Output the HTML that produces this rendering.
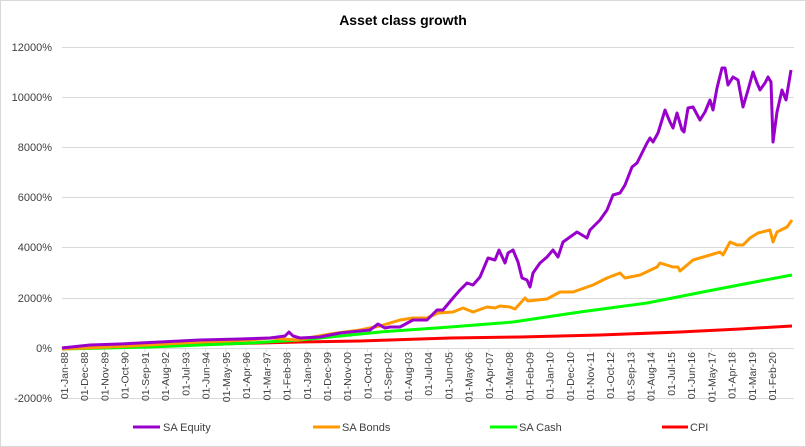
<!DOCTYPE html>
<html><head><meta charset="utf-8"><style>
html,body{margin:0;padding:0;background:#fff;}
svg{display:block;font-family:"Liberation Sans",sans-serif;}
</style></head><body>
<svg width="806" height="447" viewBox="0 0 806 447">
<rect x="0.5" y="0.5" width="805" height="446" fill="#fff" stroke="#d9d9d9"/>
<text x="403" y="25" text-anchor="middle" font-size="14" font-weight="bold" fill="#000">Asset class growth</text>
<g stroke="#d9d9d9" stroke-width="1">
<line x1="62" x2="794" y1="47.5" y2="47.5"/>
<line x1="62" x2="794" y1="97.5" y2="97.5"/>
<line x1="62" x2="794" y1="147.5" y2="147.5"/>
<line x1="62" x2="794" y1="197.5" y2="197.5"/>
<line x1="62" x2="794" y1="247.5" y2="247.5"/>
<line x1="62" x2="794" y1="298.5" y2="298.5"/>
<line x1="62" x2="794" y1="348.5" y2="348.5"/>
<line x1="62" x2="794" y1="398.5" y2="398.5"/>
</g>
<g font-size="11" fill="#404040" text-anchor="end">
<text x="52" y="51">12000%</text>
<text x="52" y="101">10000%</text>
<text x="52" y="151">8000%</text>
<text x="52" y="201">6000%</text>
<text x="52" y="251">4000%</text>
<text x="52" y="302">2000%</text>
<text x="52" y="352">0%</text>
<text x="52" y="402">-2000%</text>
</g>
<g id="ticks" stroke="#d9d9d9"></g>
<g id="xl" font-size="10.5" fill="#404040" text-anchor="end"></g>
<g fill="none" stroke-width="3" stroke-linejoin="round">
<polyline stroke="#ff0000" points="62,348 75,347 125,346 165,345 215,344 260,343 300,342 360,341 390,340 450,338 520,337 600,335 680,332 740,329 792,326"/>
<polyline stroke="#00ff00" points="62,349 150,347 200,345 250,343 300,340 330,337 360,334 380,332 450,327 513,322 580,312 647,303 713,290 760,281 792,275"/>
<polyline stroke="#ff9900" points="62,349 130,346 200,342 250,340 270,338 297,340 330,334 360,330 380,326 400,320 413,318 427,318 438,313 453,312 463,308 473,312 487,307 495,308 500,306 510,307 515,309 525,298 528,301 547,299 560,292 573,292 593,285 607,278 620,273 625,278 640,275 657,267 660,263 673,267 678,267 680,271 693,260 710,255 720,252 723,255 730,242 737,245 743,245 750,238 758,233 770,230 773,242 777,232 787,227 792,220"/>
<polyline stroke="#9900cc" points="62,348 90,345 120,344 160,342 200,340 240,339 270,338 285,336 289,332 293,336 300,338 320,337 340,333 370,330 378,324 385,328 390,327 400,327 413,320 427,320 437,310 443,310 453,298 460,290 467,283 473,285 480,277 488,258 495,260 499,250 505,263 508,253 513,250 518,262 522,278 527,280 530,287 533,273 540,263 547,257 553,250 558,257 563,242 570,237 577,232 587,238 590,230 600,220 607,210 613,195 620,193 625,185 632,167 637,163 642,153 647,143 650,138 653,142 658,133 662,120 665,110 670,122 673,128 677,113 682,130 684,132 688,108 693,107 700,120 705,112 710,100 713,110 717,88 722,68 725,68 728,85 733,77 738,80 743,107 748,90 753,72 757,83 760,90 765,83 768,77 771,82 773,142 777,112 782,90 786,100 791,70"/>
</g>
<g font-size="11" fill="#404040">
<line x1="133" x2="160" y1="427" y2="427" stroke="#9900cc" stroke-width="3"/><text x="163" y="431">SA Equity</text>
<line x1="313" x2="340" y1="427" y2="427" stroke="#ff9900" stroke-width="3"/><text x="342" y="431">SA Bonds</text>
<line x1="490" x2="517" y1="427" y2="427" stroke="#00ff00" stroke-width="3"/><text x="519" y="431">SA Cash</text>
<line x1="662" x2="688" y1="427" y2="427" stroke="#ff0000" stroke-width="3"/><text x="690" y="431">CPI</text>
</g>
</svg>
<script>
var m=["Jan","Feb","Mar","Apr","May","Jun","Jul","Aug","Sep","Oct","Nov","Dec"];
var g=document.getElementById("xl"),t=document.getElementById("ticks"),ns="http://www.w3.org/2000/svg";
for(var i=0;i<=35;i++){var mo=i*11,y=88+Math.floor(mo/12),mm=mo%12;var x=64+i*20.23;
var e=document.createElementNS(ns,"text");e.setAttribute("transform","translate("+(x+4)+",352) rotate(-90)");
e.textContent="01-"+m[mm]+"-"+String(y%100).padStart(2,"0");g.appendChild(e);
var l=document.createElementNS(ns,"line");l.setAttribute("x1",x);l.setAttribute("x2",x);l.setAttribute("y1",348);l.setAttribute("y2",352);t.appendChild(l);}
</script>
</body></html>
